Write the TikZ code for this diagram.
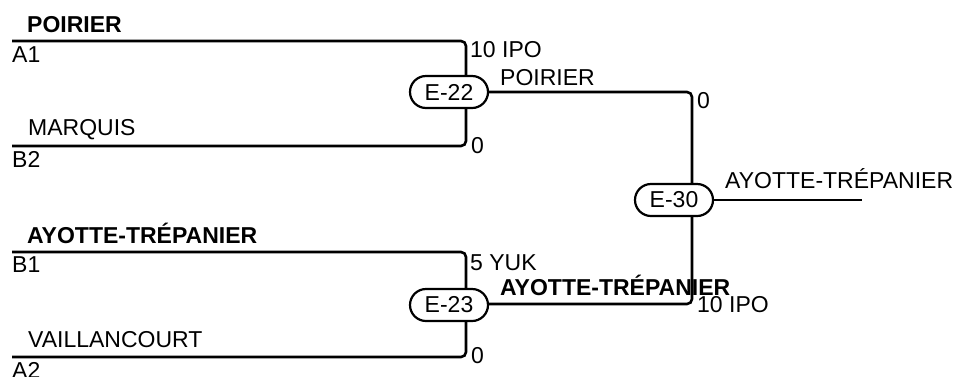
\documentclass[tikz,border=0pt]{standalone}
\usepackage{fontspec}
\setmainfont{Liberation Sans}
\begin{document}
\begin{tikzpicture}[x=1pt,y=-1pt,
  wire/.style={line width=2.6pt,rounded corners=5pt},
  game/.style={draw,line width=2.2pt,fill=white,rounded corners=16pt,minimum width=78pt,minimum height=32pt,inner sep=0pt,font=\fontsize{23}{27}\selectfont},
  lbl/.style={anchor=base west,inner sep=0pt,font=\fontsize{23}{27}\selectfont},
  blbl/.style={lbl,font=\fontsize{23}{27}\selectfont\bfseries}]
\useasboundingbox (0,0) rectangle (963,376);
% coordinates
\coordinate (a1) at (12,41);
\coordinate (b2) at (12,146);
\coordinate (c1) at (466,41);
\coordinate (c2) at (466,146);
\coordinate (b1) at (12,252);
\coordinate (a2) at (12,357);
\coordinate (d1) at (466,252);
\coordinate (d2) at (466,357);
\coordinate (r1) at (692,92);
\coordinate (r2) at (692,304);
\coordinate (fin) at (862,200);
% wires
\draw[wire] (a1) -- (c1) -- (c2) -- (b2);
\draw[wire] (b1) -- (d1) -- (d2) -- (a2);
\node[game] (e22) at (449,92) {E-22};
\node[game] (e23) at (449,305) {E-23};
\draw[wire] (e22.east) -- (r1) -- (r2) -- (e23.east |- r2);
\node[game] (e30) at (674,200) {E-30};
\draw[wire] (e30.east) -- (fin);
% labels
\node[blbl] (t1) at (27,32) {POIRIER};
\node[lbl] (la1) at (12,62) {A1};
\node[lbl] (lm) at (28,135) {MARQUIS};
\node[lbl] (lb2) at (12,167) {B2};
\node[lbl] (s1) at (470,57) {10 IPO};
\node[lbl] (s2) at (471,153) {0};
\node[blbl] (t2) at (27,243) {AYOTTE-TRÉPANIER};
\node[lbl] (lb1) at (12,272) {B1};
\node[lbl] (lv) at (28,347) {VAILLANCOURT};
\node[lbl] (la2) at (12,378) {A2};
\node[lbl] (s3) at (470,270) {5 YUK};
\node[lbl] (s4) at (471,363) {0};
\node[lbl] (w1) at (500,85) {POIRIER};
\node[lbl] (s5) at (697,108) {0};
\node[lbl] (w3) at (725,188) {AYOTTE-TRÉPANIER};
\node[blbl] (w2) at (500,295) {AYOTTE-TRÉPANIER};
\node[lbl] (s6) at (697,312) {10 IPO};
\end{tikzpicture}
\end{document}
